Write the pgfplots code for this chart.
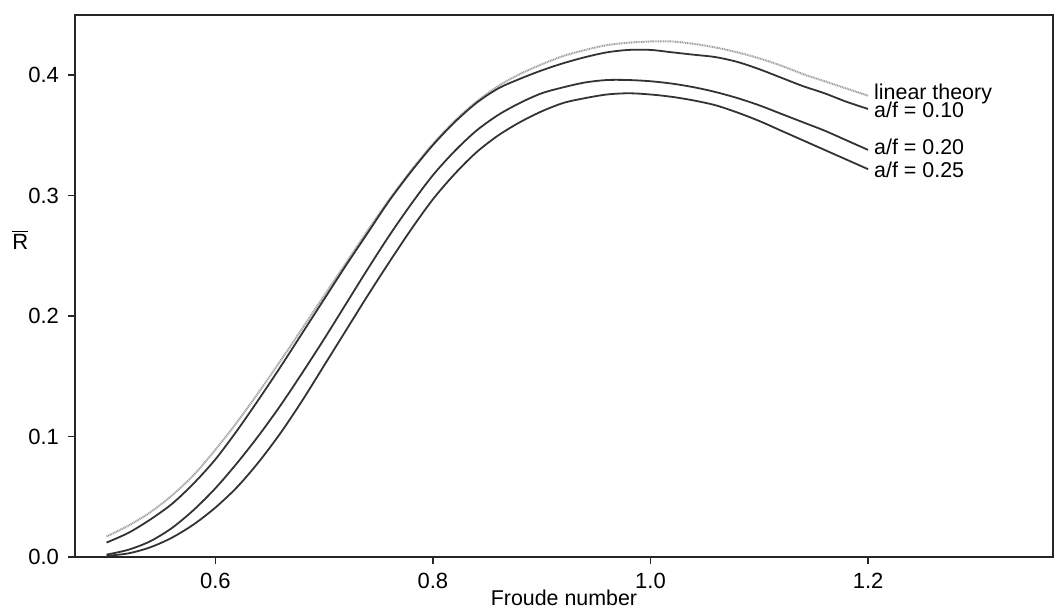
\documentclass[border=0pt]{standalone}
\usepackage{fontspec}
\setmainfont{Liberation Sans}
\usepackage{pgfplots}
\pgfplotsset{compat=1.18}
\usepackage{pgfplotstable}

% Mean resistance versus Froude number
\pgfplotstableread{
F     lin    a10    a20    a25
0.50  0.017  0.012  0.002  0.001
0.52  0.026  0.020  0.006  0.003
0.54  0.037  0.031  0.013  0.008
0.56  0.051  0.044  0.024  0.016
0.58  0.068  0.061  0.039  0.027
0.60  0.089  0.081  0.057  0.041
0.62  0.112  0.105  0.078  0.058
0.64  0.137  0.131  0.101  0.079
0.66  0.163  0.158  0.126  0.103
0.68  0.190  0.186  0.153  0.130
0.70  0.217  0.214  0.181  0.159
0.72  0.244  0.242  0.210  0.188
0.74  0.271  0.269  0.239  0.217
0.76  0.297  0.296  0.267  0.245
0.78  0.321  0.320  0.293  0.272
0.80  0.343  0.342  0.317  0.297
0.82  0.362  0.361  0.337  0.318
0.84  0.378  0.377  0.354  0.336
0.86  0.391  0.389  0.367  0.350
0.88  0.401  0.397  0.377  0.361
0.90  0.409  0.404  0.385  0.370
0.92  0.416  0.410  0.390  0.377
0.94  0.421  0.415  0.394  0.381
0.96  0.425  0.419  0.396  0.384
0.98  0.427  0.421  0.396  0.385
1.00  0.428  0.421  0.395  0.384
1.02  0.428  0.419  0.393  0.382
1.04  0.426  0.417  0.390  0.379
1.06  0.423  0.415  0.386  0.375
1.08  0.419  0.411  0.381  0.369
1.10  0.414  0.405  0.375  0.362
1.12  0.408  0.398  0.368  0.354
1.14  0.401  0.391  0.361  0.346
1.16  0.395  0.385  0.354  0.338
1.18  0.389  0.378  0.346  0.330
1.20  0.383  0.372  0.338  0.322
}\resdata

\begin{document}
\begin{tikzpicture}
\begin{axis}[
  scale only axis,
  width=489pt, height=271pt,
  xmin=0.471, xmax=1.37,
  ymin=0, ymax=0.45,
  xtick={0.6,0.8,1.0,1.2},
  ytick={0,0.1,0.2,0.3,0.4},
  tick pos=left,
  tick align=outside,
  major tick length=3.5pt,
  axis line style={line width=0.8pt, black!85},
  tick style={line width=0.8pt, black!85},
  /pgf/number format/.cd, fixed, fixed zerofill, precision=1, assume math mode=true,
  /pgfplots/.cd,
  tick label style={font=\fontsize{11}{13}\selectfont},
  xticklabel style={yshift=-1pt},
  yticklabel style={xshift=-1pt},
  xlabel={Froude number},
  xlabel style={at={(axis description cs:0.5,0)}, anchor=center, yshift=-20.5pt,
                font=\fontsize{10.7}{12}\selectfont},
  ylabel={$\overline{\mbox{R}}$},
  ylabel style={at={(axis description cs:-0.056,0.585)}, anchor=center, rotate=-90,
                font=\fontsize{11}{13}\selectfont},
  clip=false,
]
\addplot[gray!75, line width=1pt, dash pattern=on 0.5pt off 0.35pt, smooth] table[x=F, y=lin] {\resdata};
\addplot[black!80, line width=0.9pt, smooth] table[x=F, y=a10] {\resdata};
\addplot[black!80, line width=0.9pt, smooth] table[x=F, y=a20] {\resdata};
\addplot[black!80, line width=0.9pt, smooth] table[x=F, y=a25] {\resdata};

\begin{scope}[every node/.style={anchor=base west, inner sep=0pt, font=\fontsize{10.7}{12}\selectfont}]
\node at (axis cs:1.2053,0.380) {linear theory};
\node at (axis cs:1.2053,0.3645) {a/f = 0.10};
\node at (axis cs:1.2053,0.334) {a/f = 0.20};
\node at (axis cs:1.2053,0.315) {a/f = 0.25};
\end{scope}
\end{axis}
\pgfresetboundingbox
\path ([shift={(-37.5pt,-26pt)}]current axis.south west) rectangle ([shift={(1.5pt,7.5pt)}]current axis.north east);
\end{tikzpicture}
\end{document}
